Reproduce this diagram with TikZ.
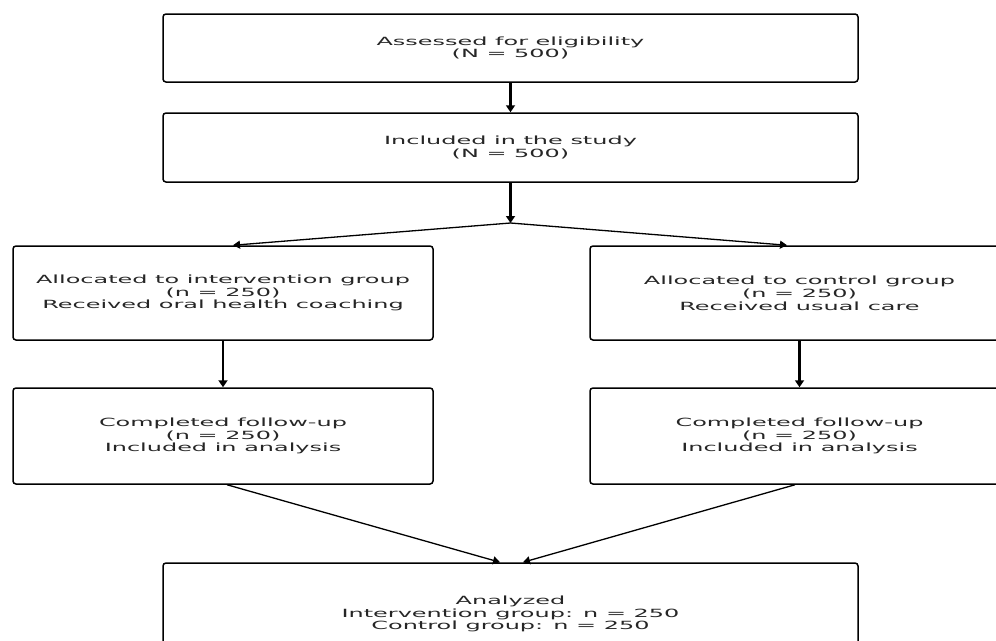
\documentclass[tikz,border=0pt]{standalone}
\usepackage{fontspec}
\newfontfamily\widefont[FakeStretch=2.12]{DejaVu Sans}
\usetikzlibrary{arrows.meta}
\tikzset{
  flowbox/.style={draw=black, line width=1.5pt, rounded corners=3pt, align=center,
    inner sep=0pt, font=\widefont\fontsize{11.3}{12.8}\selectfont, text=black!85},
  vtip/.style={-{Triangle[length=7pt,width=9pt]}, line width=2.2pt},
  stip/.style={-{Triangle[length=7pt,width=8pt]}, line width=1.3pt}
}
\begin{document}
\begin{tikzpicture}[x=1pt,y=-1pt]
\useasboundingbox (0,0) rectangle (996,640);
\clip (0,0) rectangle (996,640);
\node[flowbox, minimum width=695pt, minimum height=68pt] (top) at (510.5,48)
  {Assessed for eligibility\\(N = 500)};
\node[flowbox, minimum width=695pt, minimum height=69pt] (inc) at (510.5,147.5)
  {Included in the study\\(N = 500)};
\node[flowbox, minimum width=420pt, minimum height=94pt] (L1) at (223,293)
  {Allocated to intervention group\\(n = 250)\\Received oral health coaching};
\node[flowbox, minimum width=419pt, minimum height=94pt] (R1) at (799.5,293)
  {Allocated to control group\\(n = 250)\\Received usual care};
\node[flowbox, minimum width=420pt, minimum height=96pt] (L2) at (223,436)
  {Completed follow-up\\(n = 250)\\Included in analysis};
\node[flowbox, minimum width=419pt, minimum height=96pt] (R2) at (799.5,436)
  {Completed follow-up\\(n = 250)\\Included in analysis};
\node[flowbox, minimum width=695pt, minimum height=102pt] (an) at (510.5,614)
  {Analyzed\\Intervention group: n = 250\\Control group: n = 250};
\coordinate (split) at (510.5,223);
\draw[vtip] (top.south) -- (inc.north);
\draw[vtip] (inc.south) -- (split);
\draw[stip] (split) -- ([xshift=10pt]L1.north);
\draw[stip] (split) -- ([xshift=-12.5pt]R1.north);
\draw[vtip] (L1.south) -- (L2.north);
\draw[vtip] (R1.south) -- (R2.north);
\draw[stip] ([xshift=4pt]L2.south) -- ([xshift=-10.5pt]an.north);
\draw[stip] ([xshift=-4.5pt]R2.south) -- ([xshift=12.5pt]an.north);
\end{tikzpicture}
\end{document}
